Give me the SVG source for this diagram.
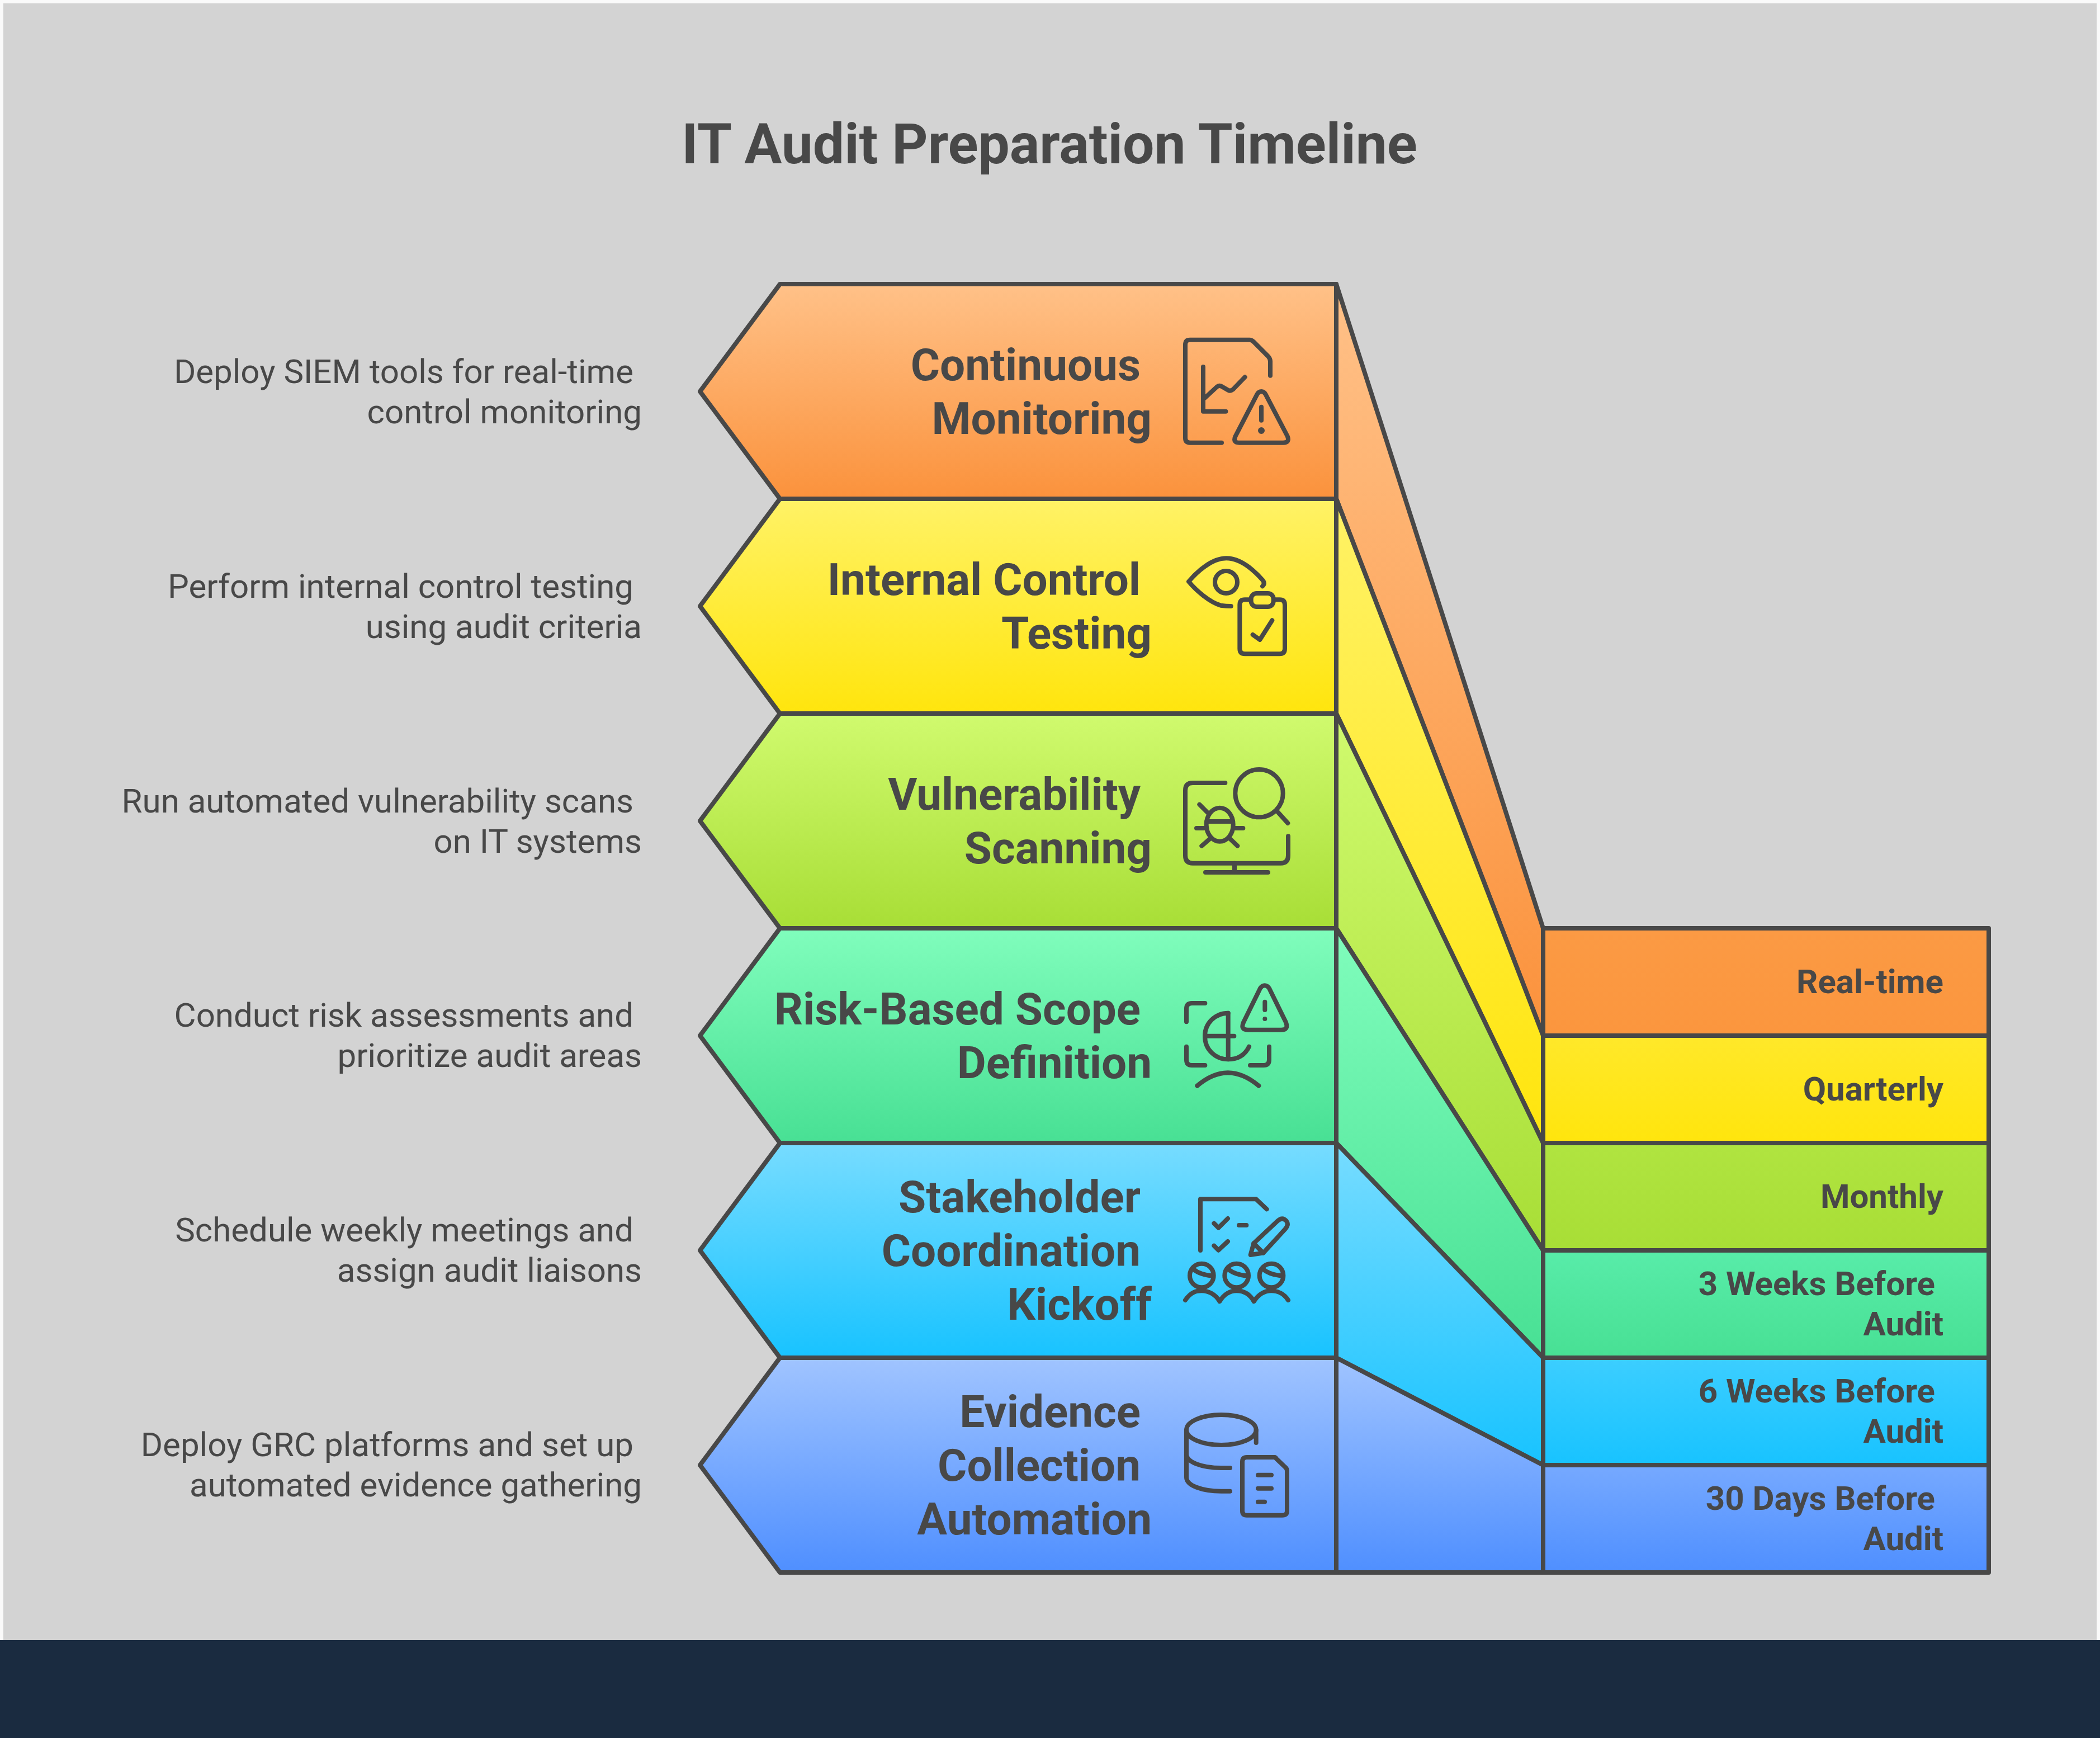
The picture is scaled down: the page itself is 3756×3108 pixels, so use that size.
<svg xmlns="http://www.w3.org/2000/svg" width="3756" height="3108" viewBox="0 0 3756 3108">
<style>
text{font-family:Roboto,"Liberation Sans",sans-serif;fill:#484848;text-anchor:end}
.title{font-size:100px;font-weight:700;text-anchor:middle}
.name{font-size:80px;font-weight:700}
.desc{font-size:60px;font-weight:400}
.when{font-size:60px;font-weight:700}
.s{stroke:#484848;stroke-width:8;stroke-linejoin:round}
.ic{fill:none;stroke:#484848;stroke-width:24;stroke-linecap:round;stroke-linejoin:round}
.ic .dot{fill:#484848;stroke:none}
</style>
<defs>
<linearGradient id="g1" x1="0" y1="0" x2="0" y2="1"><stop offset="0" stop-color="#ffc188"/><stop offset="1" stop-color="#fb923c"/></linearGradient>
<linearGradient id="g2" x1="0" y1="0" x2="0" y2="1"><stop offset="0" stop-color="#fff266"/><stop offset="1" stop-color="#ffe50d"/></linearGradient>
<linearGradient id="g3" x1="0" y1="0" x2="0" y2="1"><stop offset="0" stop-color="#d0fa6e"/><stop offset="1" stop-color="#a8de36"/></linearGradient>
<linearGradient id="g4" x1="0" y1="0" x2="0" y2="1"><stop offset="0" stop-color="#80fdbc"/><stop offset="1" stop-color="#48e094"/></linearGradient>
<linearGradient id="g5" x1="0" y1="0" x2="0" y2="1"><stop offset="0" stop-color="#77dcff"/><stop offset="1" stop-color="#18c3ff"/></linearGradient>
<linearGradient id="g6" x1="0" y1="0" x2="0" y2="1"><stop offset="0" stop-color="#a0c4ff"/><stop offset="1" stop-color="#4f8fff"/></linearGradient>
<linearGradient id="r1" x1="0" y1="0" x2="0" y2="1"><stop offset="0" stop-color="#fb9a44"/><stop offset="1" stop-color="#fb963e"/></linearGradient>
<linearGradient id="r2" x1="0" y1="0" x2="0" y2="1"><stop offset="0" stop-color="#ffe82a"/><stop offset="1" stop-color="#ffe50d"/></linearGradient>
<linearGradient id="r3" x1="0" y1="0" x2="0" y2="1"><stop offset="0" stop-color="#b0e440"/><stop offset="1" stop-color="#a8de36"/></linearGradient>
<linearGradient id="r4" x1="0" y1="0" x2="0" y2="1"><stop offset="0" stop-color="#58eca9"/><stop offset="1" stop-color="#48e094"/></linearGradient>
<linearGradient id="r5" x1="0" y1="0" x2="0" y2="1"><stop offset="0" stop-color="#3cceff"/><stop offset="1" stop-color="#18c3ff"/></linearGradient>
<linearGradient id="r6" x1="0" y1="0" x2="0" y2="1"><stop offset="0" stop-color="#76a9ff"/><stop offset="1" stop-color="#4f8fff"/></linearGradient>
</defs>
<rect width="3756" height="3108" fill="#fafafa"/>
<rect x="6" y="6" width="3744" height="2930" fill="#d3d3d3"/>
<rect y="2933" width="3756" height="175" fill="#1a2b40"/>
<text class="title" x="1877" y="292">IT Audit Preparation Timeline</text>

<g id="connectors">
<polygon class="s" fill="url(#g1)" points="2390,508 2760,1660 2760,1852 2390,892"/>
<polygon class="s" fill="url(#g2)" points="2390,892 2760,1852 2760,2044 2390,1276"/>
<polygon class="s" fill="url(#g3)" points="2390,1276 2760,2044 2760,2236 2390,1660"/>
<polygon class="s" fill="url(#g4)" points="2390,1660 2760,2236 2760,2428 2390,2044"/>
<polygon class="s" fill="url(#g5)" points="2390,2044 2760,2428 2760,2620 2390,2428"/>
<polygon class="s" fill="url(#g6)" points="2390,2428 2760,2620 2760,2812 2390,2812"/>
</g>

<g id="node-continuous-monitoring">
<polygon class="s" fill="url(#g1)" points="1395,508 2390,508 2390,892 1395,892 1252,700"/>
<text class="name"><tspan x="2040" y="680">Continuous</tspan><tspan x="2060" y="776">Monitoring</tspan></text>
<g class="ic" transform="translate(2050,560) scale(.33333)">
<path d="M405 695H235Q210 695 210 670V170Q210 143 235 143H555Q565 143 575 152L655 232Q666 245 666 258V335"/>
<path d="M306 288V527H427"/>
<path d="M315 455L380 395Q392 385 405 393L440 413Q452 420 465 410L530 343"/>
<path d="M618 420Q632 420 640 434L758 660Q772 695 735 695H500Q463 695 479 660L596 434Q604 420 618 420Z"/>
<path d="M618 503V575"/>
<circle class="dot" cx="618" cy="630" r="18"/>
</g>
<text class="desc"><tspan x="1133" y="685">Deploy SIEM tools for real-time</tspan><tspan x="1148" y="757">control monitoring</tspan></text>
</g>

<g id="node-internal-control-testing">
<polygon class="s" fill="url(#g2)" points="1395,892 2390,892 2390,1276 1395,1276 1252,1084"/>
<text class="name"><tspan x="2040" y="1064">Internal Control</tspan><tspan x="2060" y="1160">Testing</tspan></text>
<g class="ic" transform="translate(2050,960) scale(.33333)">
<path d="M455 372Q430 372 400 368C340 350 270 290 228 240C270 190 350 115 430 115C500 115 570 170 625 232Q640 250 624 265"/>
<circle cx="429" cy="243" r="60"/>
<path d="M552 337H530Q502 337 502 365V600Q502 628 530 628H716Q744 628 744 600V365Q744 337 716 337H694"/>
<rect x="563" y="303" width="120" height="72" rx="30"/>
<path d="M572 525L610 552L676 448"/>
</g>
<text class="desc"><tspan x="1133" y="1069">Perform internal control testing</tspan><tspan x="1148" y="1141">using audit criteria</tspan></text>
</g>

<g id="node-vulnerability-scanning">
<polygon class="s" fill="url(#g3)" points="1395,1276 2390,1276 2390,1660 1395,1660 1252,1468"/>
<text class="name"><tspan x="2040" y="1448">Vulnerability</tspan><tspan x="2060" y="1544">Scanning</tspan></text>
<g class="ic" transform="translate(2050,1340) scale(.33333)">
<circle cx="606" cy="236" r="128"/>
<path d="M705 335L760 396"/>
<path d="M424 180H250Q210 180 210 220V570Q210 611 250 611H722Q762 611 762 570V466"/>
<path d="M474 611V660M318 660H654"/>
<ellipse cx="395" cy="404" rx="72" ry="90"/>
<path d="M325 387H465M286 296L335 345M270 423H325M478 423H520M298 518L342 480M490 518L448 478"/>
</g>
<text class="desc"><tspan x="1133" y="1453">Run automated vulnerability scans</tspan><tspan x="1148" y="1525">on IT systems</tspan></text>
</g>

<g id="node-risk-based-scope">
<polygon class="s" fill="url(#g4)" points="1395,1660 2390,1660 2390,2044 1395,2044 1252,1852"/>
<text class="name"><tspan x="2040" y="1832">Risk-Based Scope</tspan><tspan x="2060" y="1928">Definition</tspan></text>
<g class="ic" transform="translate(2050,1730) scale(.33333)">
<path d="M316 192H245Q216 192 216 222V292M216 425V495Q216 525 245 525H316M558 525H630Q660 525 660 495V425"/>
<path d="M440 245C370 245 315 300 315 368C315 440 370 493 440 493C490 493 530 470 552 425"/>
<path d="M440 245V493M315 368H472"/>
<path d="M274 635Q438 495 604 635"/>
<path d="M636 97Q650 97 660 112L750 295Q765 335 725 335H545Q505 335 522 295L612 112Q622 97 636 97Z"/>
<path d="M637 185V228"/>
<circle class="dot" cx="637" cy="276" r="12"/>
</g>
<text class="desc"><tspan x="1133" y="1836">Conduct risk assessments and</tspan><tspan x="1148" y="1908">prioritize audit areas</tspan></text>
</g>

<g id="node-stakeholder-kickoff">
<polygon class="s" fill="url(#g5)" points="1395,2044 2390,2044 2390,2428 1395,2428 1252,2236"/>
<text class="name"><tspan x="2040" y="2168">Stakeholder</tspan><tspan x="2040" y="2264">Coordination</tspan><tspan x="2060" y="2360">Kickoff</tspan></text>
<g class="ic" transform="translate(2050,2110) scale(.33333)">
<path d="M291 378V103H590L647 157"/>
<path d="M364 233L388 257L438 207M364 353L388 377L438 330M498 243H538"/>
<path d="M560 402L577 340L705 220Q730 197 752 220Q768 240 745 265L628 392Z"/>
<path d="M577 340L628 392"/>
<circle cx="298" cy="513" r="64"/><circle cx="485" cy="513" r="64"/><circle cx="672" cy="513" r="64"/>
<path d="M252 478Q290 510 360 515M439 478Q477 510 547 515M626 478Q664 510 734 515"/>
<path d="M210 645C240 600 270 595 298 595C330 595 370 610 394 652C420 610 450 595 485 595C520 595 555 610 578 652C605 610 635 595 672 595C705 595 740 610 762 645"/>
</g>
<text class="desc"><tspan x="1133" y="2220">Schedule weekly meetings and</tspan><tspan x="1148" y="2292">assign audit liaisons</tspan></text>
</g>

<g id="node-evidence-automation">
<polygon class="s" fill="url(#g6)" points="1395,2428 2390,2428 2390,2812 1395,2812 1252,2620"/>
<text class="name"><tspan x="2040" y="2552">Evidence</tspan><tspan x="2040" y="2648">Collection</tspan><tspan x="2060" y="2744">Automation</tspan></text>
<g class="ic" transform="translate(2050,2490) scale(.33333)">
<ellipse cx="403" cy="201" rx="187" ry="81"/>
<path d="M216 201V455C216 500 300 530 403 530H450"/>
<path d="M216 330C216 375 300 405 403 405H450"/>
<path d="M590 201V270"/>
<path d="M690 348H540Q516 348 516 372V635Q516 659 540 659H730Q756 659 756 635V420Q756 410 745 400L698 355Q695 348 690 348Z"/>
<path d="M600 443H672M600 515H672M600 587H636"/>
</g>
<text class="desc"><tspan x="1133" y="2604">Deploy GRC platforms and set up</tspan><tspan x="1148" y="2676">automated evidence gathering</tspan></text>
</g>

<g id="node-real-time"><rect class="s" fill="url(#r1)" x="2760" y="1660" width="797" height="192"/><text class="when" x="3476" y="1776">Real-time</text></g>
<g id="node-quarterly"><rect class="s" fill="url(#r2)" x="2760" y="1852" width="797" height="192"/><text class="when" x="3476" y="1968">Quarterly</text></g>
<g id="node-monthly"><rect class="s" fill="url(#r3)" x="2760" y="2044" width="797" height="192"/><text class="when" x="3476" y="2160">Monthly</text></g>
<g id="node-3-weeks"><rect class="s" fill="url(#r4)" x="2760" y="2236" width="797" height="192"/><text class="when"><tspan x="3461" y="2316">3 Weeks Before</tspan><tspan x="3476" y="2388">Audit</tspan></text></g>
<g id="node-6-weeks"><rect class="s" fill="url(#r5)" x="2760" y="2428" width="797" height="192"/><text class="when"><tspan x="3461" y="2508">6 Weeks Before</tspan><tspan x="3476" y="2580">Audit</tspan></text></g>
<g id="node-30-days"><rect class="s" fill="url(#r6)" x="2760" y="2620" width="797" height="192"/><text class="when"><tspan x="3461" y="2700">30 Days Before</tspan><tspan x="3476" y="2772">Audit</tspan></text></g>
</svg>
